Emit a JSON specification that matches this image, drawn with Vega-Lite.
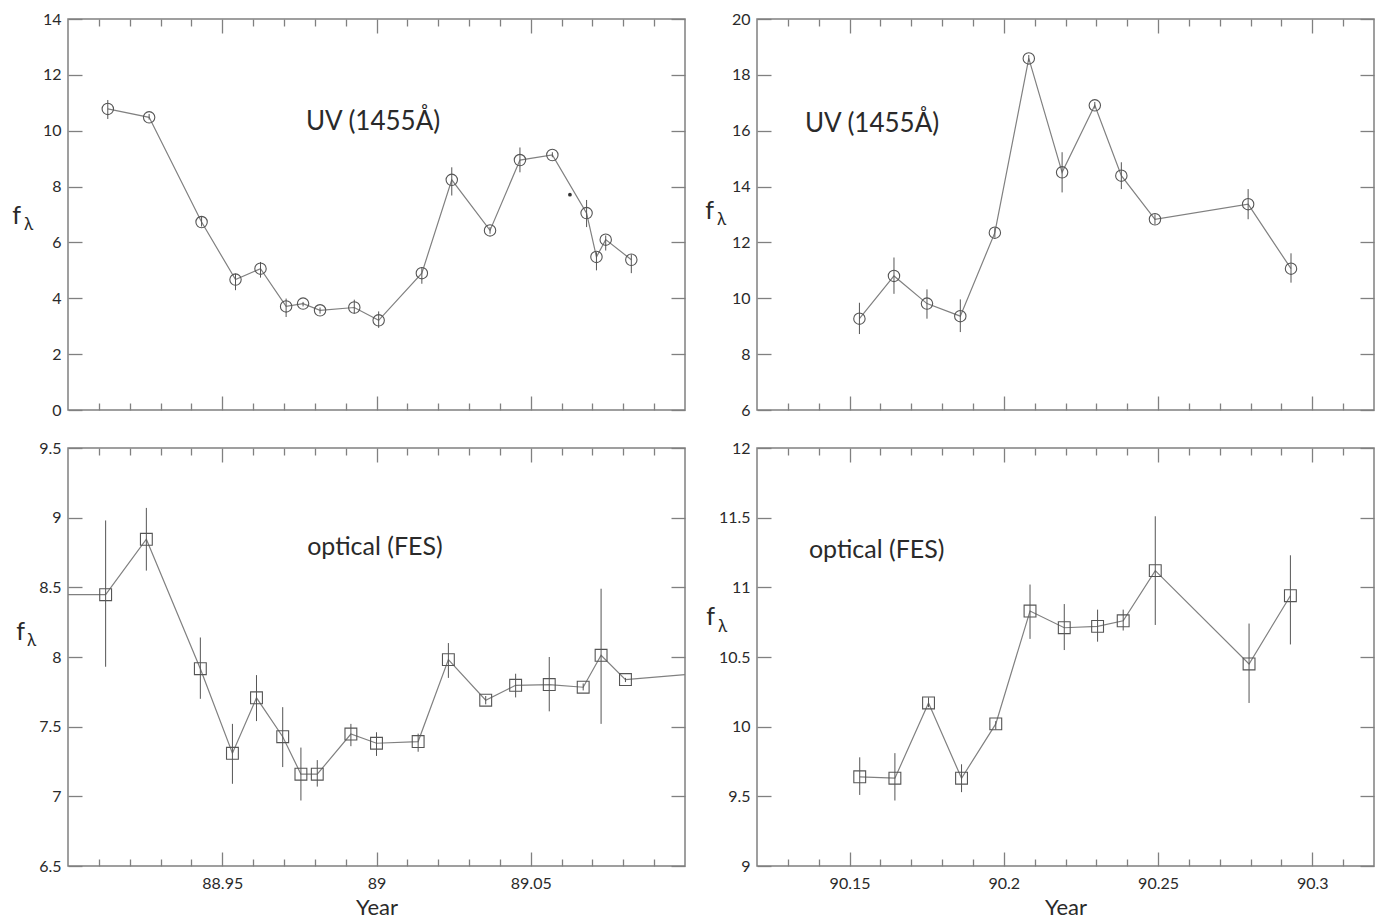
{
  "$schema": "https://vega.github.io/schema/vega-lite/v6.json",
  "background": "white",
  "padding": {"left": 10, "top": 10, "right": 5, "bottom": 5},
  "columns": 2,
  "spacing": {"row": 38, "column": 72},
  "bounds": "flush",
  "align": "each",
  "config": {
    "view": {"stroke": "#808080", "strokeWidth": 1.5},
    "axis": {"grid": false, "domain": false, "tickColor": "#808080", "tickWidth": 1.3, "labelFont": "Lato", "labelFontSize": 16, "labelColor": "#2a2a2a", "titleFont": "Lato", "titleFontSize": 22, "titleFontWeight": "normal", "titleColor": "#2a2a2a", "labelOverlap": false, "labelFlush": false, "labelBound": false}
  },
  "datasets": {
    "uv88": [
      {"t": 88.9129, "f": 10.78, "lo": 10.42, "hi": 11.10},
      {"t": 88.9263, "f": 10.48, "lo": 10.40, "hi": 10.60},
      {"t": 88.9433, "f": 6.73, "lo": 6.57, "hi": 6.93},
      {"t": 88.9543, "f": 4.67, "lo": 4.29, "hi": 4.88},
      {"t": 88.9624, "f": 5.06, "lo": 4.74, "hi": 5.30},
      {"t": 88.9707, "f": 3.71, "lo": 3.33, "hi": 3.99},
      {"t": 88.9762, "f": 3.81, "lo": 3.71, "hi": 3.87},
      {"t": 88.9817, "f": 3.57, "lo": 3.45, "hi": 3.67},
      {"t": 88.9928, "f": 3.67, "lo": 3.45, "hi": 3.95},
      {"t": 89.0007, "f": 3.21, "lo": 2.94, "hi": 3.53},
      {"t": 89.0147, "f": 4.90, "lo": 4.52, "hi": 5.12},
      {"t": 89.0244, "f": 8.24, "lo": 7.68, "hi": 8.69},
      {"t": 89.0368, "f": 6.43, "lo": 6.31, "hi": 6.55},
      {"t": 89.0465, "f": 8.95, "lo": 8.51, "hi": 9.40},
      {"t": 89.0570, "f": 9.13, "lo": 9.05, "hi": 9.23},
      {"t": 89.0681, "f": 7.05, "lo": 6.55, "hi": 7.52},
      {"t": 89.0713, "f": 5.48, "lo": 5.00, "hi": 5.65},
      {"t": 89.0743, "f": 6.10, "lo": 5.71, "hi": 6.25},
      {"t": 89.0826, "f": 5.38, "lo": 4.90, "hi": 5.57}
    ],
    "opt88": [
      {"t": 88.9000, "f": 8.447, "edge": true},
      {"t": 88.9122, "f": 8.447, "lo": 7.93, "hi": 8.98, "edge": false},
      {"t": 88.9254, "f": 8.845, "lo": 8.62, "hi": 9.07, "edge": false},
      {"t": 88.9429, "f": 7.916, "lo": 7.70, "hi": 8.14, "edge": false},
      {"t": 88.9533, "f": 7.309, "lo": 7.09, "hi": 7.52, "edge": false},
      {"t": 88.9611, "f": 7.707, "lo": 7.54, "hi": 7.87, "edge": false},
      {"t": 88.9696, "f": 7.428, "lo": 7.21, "hi": 7.64, "edge": false},
      {"t": 88.9755, "f": 7.159, "lo": 6.97, "hi": 7.35, "edge": false},
      {"t": 88.9808, "f": 7.159, "lo": 7.07, "hi": 7.26, "edge": false},
      {"t": 88.9917, "f": 7.447, "lo": 7.36, "hi": 7.52, "edge": false},
      {"t": 89.0000, "f": 7.381, "lo": 7.29, "hi": 7.46, "edge": false},
      {"t": 89.0135, "f": 7.393, "lo": 7.32, "hi": 7.45, "edge": false},
      {"t": 89.0233, "f": 7.981, "lo": 7.85, "hi": 8.10, "edge": false},
      {"t": 89.0354, "f": 7.690, "lo": 7.66, "hi": 7.72, "edge": false},
      {"t": 89.0451, "f": 7.797, "lo": 7.71, "hi": 7.88, "edge": false},
      {"t": 89.0560, "f": 7.802, "lo": 7.61, "hi": 8.00, "edge": false},
      {"t": 89.0670, "f": 7.783, "lo": 7.76, "hi": 7.81, "edge": false},
      {"t": 89.0728, "f": 8.012, "lo": 7.52, "hi": 8.49, "edge": false},
      {"t": 89.0807, "f": 7.838, "lo": 7.82, "hi": 7.85, "edge": false},
      {"t": 89.1000, "f": 7.874, "edge": true}
    ],
    "uv90": [
      {"t": 90.1532, "f": 9.27, "lo": 8.72, "hi": 9.84},
      {"t": 90.1644, "f": 10.80, "lo": 10.16, "hi": 11.46},
      {"t": 90.1751, "f": 9.81, "lo": 9.27, "hi": 10.32},
      {"t": 90.1859, "f": 9.36, "lo": 8.79, "hi": 9.96},
      {"t": 90.1971, "f": 12.35, "lo": 12.18, "hi": 12.53},
      {"t": 90.2081, "f": 18.59, "lo": 18.47, "hi": 18.71},
      {"t": 90.2189, "f": 14.51, "lo": 13.79, "hi": 15.23},
      {"t": 90.2295, "f": 16.91, "lo": 16.79, "hi": 17.03},
      {"t": 90.2381, "f": 14.39, "lo": 13.91, "hi": 14.87},
      {"t": 90.2490, "f": 12.83, "lo": 12.65, "hi": 13.01},
      {"t": 90.2792, "f": 13.37, "lo": 12.83, "hi": 13.91},
      {"t": 90.2931, "f": 11.06, "lo": 10.56, "hi": 11.61}
    ],
    "opt90": [
      {"t": 90.1533, "f": 9.64, "lo": 9.51, "hi": 9.78},
      {"t": 90.1647, "f": 9.63, "lo": 9.47, "hi": 9.81},
      {"t": 90.1756, "f": 10.17, "lo": 10.14, "hi": 10.21},
      {"t": 90.1863, "f": 9.63, "lo": 9.53, "hi": 9.73},
      {"t": 90.1974, "f": 10.02, "lo": 9.98, "hi": 10.04},
      {"t": 90.2085, "f": 10.83, "lo": 10.63, "hi": 11.02},
      {"t": 90.2196, "f": 10.71, "lo": 10.55, "hi": 10.88},
      {"t": 90.2304, "f": 10.72, "lo": 10.61, "hi": 10.84},
      {"t": 90.2387, "f": 10.76, "lo": 10.69, "hi": 10.84},
      {"t": 90.2491, "f": 11.12, "lo": 10.73, "hi": 11.51},
      {"t": 90.2795, "f": 10.45, "lo": 10.17, "hi": 10.74},
      {"t": 90.2929, "f": 10.94, "lo": 10.59, "hi": 11.23}
    ]
  },
  "concat": [
    {
      "width": 617, "height": 391,
      "resolve": {"axis": {"x": "independent", "y": "independent"}},
      "layer": [
        {
          "data": {"name": "uv88"},
          "mark": {"type": "line", "color": "#808080", "strokeWidth": 1.2},
          "encoding": {
            "x": {"field": "t", "type": "quantitative", "scale": {"domain": [88.9, 89.1], "nice": false, "zero": false},
                  "axis": {"orient": "bottom", "values": [88.95, 89, 89.05], "tickSize": -14, "labels": false, "title": null}},
            "y": {"field": "f", "type": "quantitative", "scale": {"domain": [0, 14], "nice": false, "zero": false},
                  "axis": {"orient": "left", "values": [0, 2, 4, 6, 8, 10, 12, 14], "tickSize": -14, "labelPadding": 21, "labelExpr": "'' + datum.value", "title": "f", "titleFontSize": 25, "titleAngle": 0, "titleX": -52, "titleY": 196, "titleAlign": "center", "titleBaseline": "middle"}}
          }
        },
        {
          "data": {"name": "uv88"},
          "mark": {"type": "rule", "color": "#555555", "strokeWidth": 1},
          "encoding": {
            "x": {"field": "t", "type": "quantitative", "scale": {"domain": [88.9, 89.1], "nice": false, "zero": false},
                  "axis": {"orient": "bottom", "values": [88.91, 88.92, 88.93, 88.94, 88.96, 88.97, 88.98, 88.99, 89.01, 89.02, 89.03, 89.04, 89.06, 89.07, 89.08, 89.09], "tickSize": -7, "labels": false, "title": null}},
            "y": {"field": "lo", "type": "quantitative", "scale": {"domain": [0, 14], "nice": false, "zero": false},
                  "axis": {"orient": "right", "values": [0, 2, 4, 6, 8, 10, 12, 14], "tickSize": -14, "labels": false, "title": "λ", "titleFontSize": 17, "titleAngle": 0, "titleX": -657, "titleY": 205, "titleAlign": "center", "titleBaseline": "middle"}},
            "y2": {"field": "hi"}
          }
        },
        {
          "data": {"name": "uv88"},
          "mark": {"type": "point", "shape": "circle", "size": 130, "filled": false, "color": "#555555", "strokeWidth": 1.1, "opacity": 1},
          "encoding": {
            "x": {"field": "t", "type": "quantitative", "scale": {"domain": [88.9, 89.1], "nice": false, "zero": false},
                  "axis": {"orient": "top", "values": [88.95, 89, 89.05], "tickSize": -14, "labels": false, "title": null}},
            "y": {"field": "f", "type": "quantitative", "scale": {"domain": [0, 14], "nice": false, "zero": false}, "axis": null}
          }
        },
        {
          "data": {"values": [{"t": 88.9989, "f": 10.32, "label": "UV (1455Å)"}]},
          "mark": {"type": "text", "font": "Lato", "fontSize": 26, "color": "#2a2a2a", "align": "center", "baseline": "middle"},
          "encoding": {
            "x": {"field": "t", "type": "quantitative", "scale": {"domain": [88.9, 89.1], "nice": false, "zero": false},
                  "axis": {"orient": "top", "values": [88.91, 88.92, 88.93, 88.94, 88.96, 88.97, 88.98, 88.99, 89.01, 89.02, 89.03, 89.04, 89.06, 89.07, 89.08, 89.09], "tickSize": -7, "labels": false, "title": null}},
            "y": {"field": "f", "type": "quantitative", "scale": {"domain": [0, 14], "nice": false, "zero": false}, "axis": null},
            "text": {"field": "label"}
          }
        },
        {
          "data": {"values": [{"t": 89.0627, "f": 7.71}]},
          "mark": {"type": "point", "shape": "circle", "size": 14, "filled": true, "color": "#333333", "opacity": 1},
          "encoding": {
            "x": {"field": "t", "type": "quantitative", "scale": {"domain": [88.9, 89.1], "nice": false, "zero": false}, "axis": null},
            "y": {"field": "f", "type": "quantitative", "scale": {"domain": [0, 14], "nice": false, "zero": false}, "axis": null}
          }
        }
      ]
    },
    {
      "width": 617, "height": 391,
      "resolve": {"axis": {"x": "independent", "y": "independent"}},
      "layer": [
        {
          "data": {"name": "uv90"},
          "mark": {"type": "line", "color": "#808080", "strokeWidth": 1.2},
          "encoding": {
            "x": {"field": "t", "type": "quantitative", "scale": {"domain": [90.12, 90.32], "nice": false, "zero": false},
                  "axis": {"orient": "bottom", "values": [90.15, 90.2, 90.25, 90.3], "tickSize": -14, "labels": false, "title": null}},
            "y": {"field": "f", "type": "quantitative", "scale": {"domain": [6, 20], "nice": false, "zero": false},
                  "axis": {"orient": "left", "values": [6, 8, 10, 12, 14, 16, 18, 20], "tickSize": -14, "labelPadding": 21, "labelExpr": "'' + datum.value", "title": "f", "titleFontSize": 25, "titleAngle": 0, "titleX": -48, "titleY": 191, "titleAlign": "center", "titleBaseline": "middle"}}
          }
        },
        {
          "data": {"name": "uv90"},
          "mark": {"type": "rule", "color": "#555555", "strokeWidth": 1},
          "encoding": {
            "x": {"field": "t", "type": "quantitative", "scale": {"domain": [90.12, 90.32], "nice": false, "zero": false},
                  "axis": {"orient": "bottom", "values": [90.13, 90.14, 90.16, 90.17, 90.18, 90.19, 90.21, 90.22, 90.23, 90.24, 90.26, 90.27, 90.28, 90.29, 90.31], "tickSize": -7, "labels": false, "title": null}},
            "y": {"field": "lo", "type": "quantitative", "scale": {"domain": [6, 20], "nice": false, "zero": false},
                  "axis": {"orient": "right", "values": [6, 8, 10, 12, 14, 16, 18, 20], "tickSize": -14, "labels": false, "title": "λ", "titleFontSize": 17, "titleAngle": 0, "titleX": -653, "titleY": 200, "titleAlign": "center", "titleBaseline": "middle"}},
            "y2": {"field": "hi"}
          }
        },
        {
          "data": {"name": "uv90"},
          "mark": {"type": "point", "shape": "circle", "size": 130, "filled": false, "color": "#555555", "strokeWidth": 1.1, "opacity": 1},
          "encoding": {
            "x": {"field": "t", "type": "quantitative", "scale": {"domain": [90.12, 90.32], "nice": false, "zero": false},
                  "axis": {"orient": "top", "values": [90.15, 90.2, 90.25, 90.3], "tickSize": -14, "labels": false, "title": null}},
            "y": {"field": "f", "type": "quantitative", "scale": {"domain": [6, 20], "nice": false, "zero": false}, "axis": null}
          }
        },
        {
          "data": {"values": [{"t": 90.1573, "f": 16.23, "label": "UV (1455Å)"}]},
          "mark": {"type": "text", "font": "Lato", "fontSize": 26, "color": "#2a2a2a", "align": "center", "baseline": "middle"},
          "encoding": {
            "x": {"field": "t", "type": "quantitative", "scale": {"domain": [90.12, 90.32], "nice": false, "zero": false},
                  "axis": {"orient": "top", "values": [90.13, 90.14, 90.16, 90.17, 90.18, 90.19, 90.21, 90.22, 90.23, 90.24, 90.26, 90.27, 90.28, 90.29, 90.31], "tickSize": -7, "labels": false, "title": null}},
            "y": {"field": "f", "type": "quantitative", "scale": {"domain": [6, 20], "nice": false, "zero": false}, "axis": null},
            "text": {"field": "label"}
          }
        }
      ]
    },
    {
      "width": 617, "height": 418,
      "resolve": {"axis": {"x": "independent", "y": "independent"}},
      "layer": [
        {
          "data": {"name": "opt88"},
          "mark": {"type": "line", "color": "#808080", "strokeWidth": 1.2},
          "encoding": {
            "x": {"field": "t", "type": "quantitative", "scale": {"domain": [88.9, 89.1], "nice": false, "zero": false},
                  "axis": {"orient": "bottom", "values": [88.95, 89, 89.05], "tickSize": -14, "labelPadding": 23, "labelExpr": "'' + datum.value", "title": "Year", "titleY": 41, "titleBaseline": "middle"}},
            "y": {"field": "f", "type": "quantitative", "scale": {"domain": [6.5, 9.5], "nice": false, "zero": false},
                  "axis": {"orient": "left", "values": [6.5, 7, 7.5, 8, 8.5, 9, 9.5], "tickSize": -14, "labelPadding": 21, "labelExpr": "'' + datum.value", "title": "f", "titleFontSize": 25, "titleAngle": 0, "titleX": -48, "titleY": 183, "titleAlign": "center", "titleBaseline": "middle"}}
          }
        },
        {
          "data": {"name": "opt88"},
          "transform": [{"filter": "!datum.edge"}],
          "mark": {"type": "rule", "color": "#555555", "strokeWidth": 1},
          "encoding": {
            "x": {"field": "t", "type": "quantitative", "scale": {"domain": [88.9, 89.1], "nice": false, "zero": false},
                  "axis": {"orient": "bottom", "values": [88.91, 88.92, 88.93, 88.94, 88.96, 88.97, 88.98, 88.99, 89.01, 89.02, 89.03, 89.04, 89.06, 89.07, 89.08, 89.09], "tickSize": -7, "labels": false, "title": null}},
            "y": {"field": "lo", "type": "quantitative", "scale": {"domain": [6.5, 9.5], "nice": false, "zero": false},
                  "axis": {"orient": "right", "values": [6.5, 7, 7.5, 8, 8.5, 9, 9.5], "tickSize": -14, "labels": false, "title": "λ", "titleFontSize": 17, "titleAngle": 0, "titleX": -654, "titleY": 192, "titleAlign": "center", "titleBaseline": "middle"}},
            "y2": {"field": "hi"}
          }
        },
        {
          "data": {"name": "opt88"},
          "transform": [{"filter": "!datum.edge"}],
          "mark": {"type": "point", "shape": "square", "size": 140, "filled": false, "color": "#555555", "strokeWidth": 1.1, "opacity": 1},
          "encoding": {
            "x": {"field": "t", "type": "quantitative", "scale": {"domain": [88.9, 89.1], "nice": false, "zero": false},
                  "axis": {"orient": "top", "values": [88.95, 89, 89.05], "tickSize": -14, "labels": false, "title": null}},
            "y": {"field": "f", "type": "quantitative", "scale": {"domain": [6.5, 9.5], "nice": false, "zero": false}, "axis": null}
          }
        },
        {
          "data": {"values": [{"t": 88.9995, "f": 8.79, "label": "optical (FES)"}]},
          "mark": {"type": "text", "font": "Lato", "fontSize": 25, "color": "#2a2a2a", "align": "center", "baseline": "middle"},
          "encoding": {
            "x": {"field": "t", "type": "quantitative", "scale": {"domain": [88.9, 89.1], "nice": false, "zero": false},
                  "axis": {"orient": "top", "values": [88.91, 88.92, 88.93, 88.94, 88.96, 88.97, 88.98, 88.99, 89.01, 89.02, 89.03, 89.04, 89.06, 89.07, 89.08, 89.09], "tickSize": -7, "labels": false, "title": null}},
            "y": {"field": "f", "type": "quantitative", "scale": {"domain": [6.5, 9.5], "nice": false, "zero": false}, "axis": null},
            "text": {"field": "label"}
          }
        }
      ]
    },
    {
      "width": 617, "height": 418,
      "resolve": {"axis": {"x": "independent", "y": "independent"}},
      "layer": [
        {
          "data": {"name": "opt90"},
          "mark": {"type": "line", "color": "#808080", "strokeWidth": 1.2},
          "encoding": {
            "x": {"field": "t", "type": "quantitative", "scale": {"domain": [90.12, 90.32], "nice": false, "zero": false},
                  "axis": {"orient": "bottom", "values": [90.15, 90.2, 90.25, 90.3], "tickSize": -14, "labelPadding": 23, "labelExpr": "'' + datum.value", "title": "Year", "titleY": 41, "titleBaseline": "middle"}},
            "y": {"field": "f", "type": "quantitative", "scale": {"domain": [9, 12], "nice": false, "zero": false},
                  "axis": {"orient": "left", "values": [9, 9.5, 10, 10.5, 11, 11.5, 12], "tickSize": -14, "labelPadding": 21, "labelExpr": "'' + datum.value", "title": "f", "titleFontSize": 25, "titleAngle": 0, "titleX": -47, "titleY": 168, "titleAlign": "center", "titleBaseline": "middle"}}
          }
        },
        {
          "data": {"name": "opt90"},
          "mark": {"type": "rule", "color": "#555555", "strokeWidth": 1},
          "encoding": {
            "x": {"field": "t", "type": "quantitative", "scale": {"domain": [90.12, 90.32], "nice": false, "zero": false},
                  "axis": {"orient": "bottom", "values": [90.13, 90.14, 90.16, 90.17, 90.18, 90.19, 90.21, 90.22, 90.23, 90.24, 90.26, 90.27, 90.28, 90.29, 90.31], "tickSize": -7, "labels": false, "title": null}},
            "y": {"field": "lo", "type": "quantitative", "scale": {"domain": [9, 12], "nice": false, "zero": false},
                  "axis": {"orient": "right", "values": [9, 9.5, 10, 10.5, 11, 11.5, 12], "tickSize": -14, "labels": false, "title": "λ", "titleFontSize": 17, "titleAngle": 0, "titleX": -652, "titleY": 178, "titleAlign": "center", "titleBaseline": "middle"}},
            "y2": {"field": "hi"}
          }
        },
        {
          "data": {"name": "opt90"},
          "mark": {"type": "point", "shape": "square", "size": 140, "filled": false, "color": "#555555", "strokeWidth": 1.1, "opacity": 1},
          "encoding": {
            "x": {"field": "t", "type": "quantitative", "scale": {"domain": [90.12, 90.32], "nice": false, "zero": false},
                  "axis": {"orient": "top", "values": [90.15, 90.2, 90.25, 90.3], "tickSize": -14, "labels": false, "title": null}},
            "y": {"field": "f", "type": "quantitative", "scale": {"domain": [9, 12], "nice": false, "zero": false}, "axis": null}
          }
        },
        {
          "data": {"values": [{"t": 90.1588, "f": 11.27, "label": "optical (FES)"}]},
          "mark": {"type": "text", "font": "Lato", "fontSize": 25, "color": "#2a2a2a", "align": "center", "baseline": "middle"},
          "encoding": {
            "x": {"field": "t", "type": "quantitative", "scale": {"domain": [90.12, 90.32], "nice": false, "zero": false},
                  "axis": {"orient": "top", "values": [90.13, 90.14, 90.16, 90.17, 90.18, 90.19, 90.21, 90.22, 90.23, 90.24, 90.26, 90.27, 90.28, 90.29, 90.31], "tickSize": -7, "labels": false, "title": null}},
            "y": {"field": "f", "type": "quantitative", "scale": {"domain": [9, 12], "nice": false, "zero": false}, "axis": null},
            "text": {"field": "label"}
          }
        }
      ]
    }
  ]
}
